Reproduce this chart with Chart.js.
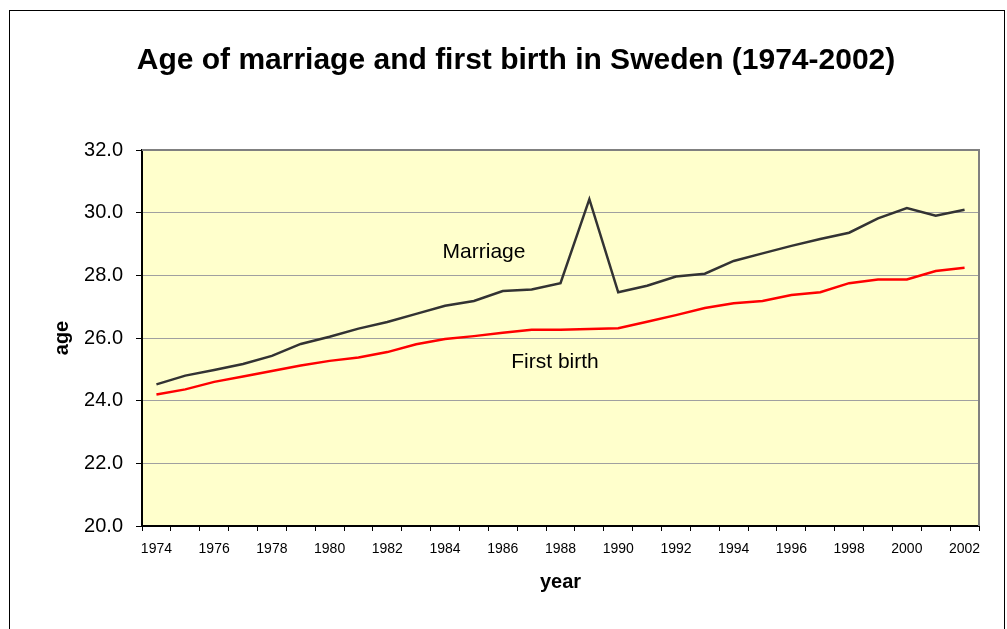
<!DOCTYPE html>
<html>
<head>
<meta charset="utf-8">
<script src="https://cdn.jsdelivr.net/npm/chart.js@4"></script>
<style>
  html, body { margin: 0; padding: 0; background: #ffffff; }
  #wrap { position: relative; width: 1007px; height: 629px; }
</style>
</head>
<body>
<div id="wrap"><canvas id="c"></canvas></div>
<script>
// ---- data ----
const years = ['1974','1975','1976','1977','1978','1979','1980','1981','1982','1983',
               '1984','1985','1986','1987','1988','1989','1990','1991','1992','1993',
               '1994','1995','1996','1997','1998','1999','2000','2001','2002'];
const marriage = [24.52, 24.80, 24.98, 25.17, 25.43, 25.81, 26.04, 26.30, 26.51, 26.77,
                  27.03, 27.18, 27.50, 27.55, 27.75, 30.43, 27.46, 27.67, 27.96, 28.05,
                  28.46, 28.70, 28.94, 29.16, 29.36, 29.82, 30.15, 29.90, 30.09];
const firstBirth = [24.20, 24.36, 24.60, 24.77, 24.95, 25.12, 25.27, 25.38, 25.55, 25.80,
                    25.97, 26.06, 26.17, 26.26, 26.26, 26.29, 26.31, 26.52, 26.73, 26.96,
                    27.11, 27.18, 27.37, 27.46, 27.75, 27.87, 27.87, 28.14, 28.24];
const yMin = 20, yMax = 32, yStep = 2;
const seriesNames = ['Marriage', 'First birth'];
// label anchors in data coordinates (category index, value)
const labelAnchors = [[11.35, 28.75], [13.81, 25.22]];

const FONT = '"Liberation Sans", Arial, Helvetica, sans-serif';

const decorPlugin = {
  id: 'decor',
  beforeDraw(chart) {
    const {ctx, chartArea: a} = chart;
    ctx.save();
    ctx.fillStyle = '#ffffff';
    ctx.fillRect(0, 0, chart.width, chart.height);
    ctx.strokeStyle = '#000000';
    ctx.lineWidth = 1;
    ctx.strokeRect(9.5, 10.5, 995, 640);
    ctx.fillStyle = '#FFFFCC';
    ctx.fillRect(a.left, a.top, a.right - a.left, a.bottom - a.top);
    ctx.restore();
  },
  beforeDatasetsDraw(chart) {
    const {ctx, chartArea: a} = chart;
    ctx.save();
    ctx.strokeStyle = '#808080';
    ctx.lineWidth = 2;
    ctx.beginPath();
    ctx.moveTo(a.left, a.top);
    ctx.lineTo(a.right, a.top);
    ctx.lineTo(a.right, a.bottom);
    ctx.stroke();
    ctx.restore();
  },
  afterDatasetsDraw(chart) {
    const {ctx, scales} = chart;
    ctx.save();
    ctx.fillStyle = '#000000';
    ctx.font = '21px ' + FONT;
    ctx.textAlign = 'center';
    ctx.textBaseline = 'middle';
    seriesNames.forEach((name, i) => {
      const [xi, yv] = labelAnchors[i];
      ctx.fillText(name, scales.x.getPixelForValue(xi), scales.y.getPixelForValue(yv));
    });
    ctx.restore();
  }
};

new Chart(document.getElementById('c'), {
  type: 'line',
  data: {
    labels: years,
    datasets: [
      { label: seriesNames[0], data: marriage, borderColor: '#333333', borderWidth: 2.5,
        pointRadius: 0, tension: 0, fill: false },
      { label: seriesNames[1], data: firstBirth, borderColor: '#FF0000', borderWidth: 2.5,
        pointRadius: 0, tension: 0, fill: false }
    ]
  },
  options: {
    responsive: true,
    maintainAspectRatio: false,
    animation: false,
    layout: { padding: { left: 53, right: 28, top: 10, bottom: 0 } },
    plugins: {
      legend: { display: false },
      tooltip: { enabled: false },
      title: {
        display: true,
        text: 'Age of marriage and first birth in Sweden (1974-2002)',
        color: '#000000',
        font: { family: FONT, size: 30, weight: 'bold', lineHeight: 1.2 },
        padding: { top: 33, bottom: 71 }
      }
    },
    scales: {
      x: {
        type: 'category',
        offset: true,
        grid: { offset: true, drawOnChartArea: false, drawTicks: true, tickLength: 5,
                color: '#000000', lineWidth: 1 },
        border: { display: true, color: '#000000', width: 2 },
        ticks: {
          autoSkip: false, maxRotation: 0, minRotation: 0, padding: 10, color: '#000000',
          font: { family: FONT, size: 14, lineHeight: 1.2 },
          callback: function(v, i) { return i % 2 === 0 ? this.getLabelForValue(v) : ''; }
        },
        title: { display: true, text: 'year', color: '#000000',
                 font: { family: FONT, size: 20, weight: 'bold', lineHeight: 1.2 },
                 padding: { top: 0, bottom: 35 } },
        afterFit(s) { s.height = 103; }
      },
      y: {
        min: yMin, max: yMax,
        grid: { color: '#A0A0A0', lineWidth: 1, drawTicks: true, tickLength: 6,
                tickColor: '#000000' },
        border: { display: true, color: '#000000', width: 2 },
        ticks: {
          stepSize: yStep, padding: 13, color: '#000000',
          font: { family: FONT, size: 20 },
          callback: (v) => Number(v).toFixed(1)
        },
        title: { display: true, text: 'age', color: '#000000',
                 font: { family: FONT, size: 20, weight: 'bold', lineHeight: 1 },
                 padding: { top: -1, bottom: 0 } },
        afterFit(s) { s.width = 89; }
      }
    }
  },
  plugins: [decorPlugin]
});
</script>
</body>
</html>
